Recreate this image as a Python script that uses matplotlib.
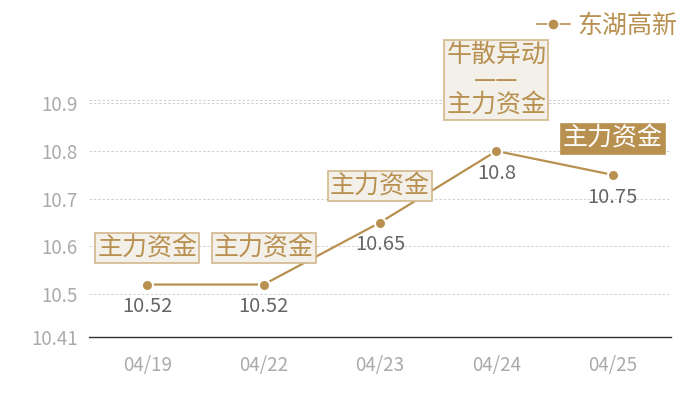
import matplotlib
matplotlib.use("Agg")
import matplotlib.pyplot as plt
from matplotlib.lines import Line2D

plt.rcParams['font.family'] = ['Noto Sans CJK SC', 'DejaVu Sans']

dates = ["04/19", "04/22", "04/23", "04/24", "04/25"]
prices = [10.52, 10.52, 10.65, 10.80, 10.75]
value_labels = ["10.52", "10.52", "10.65", "10.8", "10.75"]
events = ["主力资金", "主力资金", "主力资金", "牛散异动\n——\n主力资金", "主力资金"]
highlight = [False, False, False, False, True]
series_name = "东湖高新"
y_ticks = [10.41, 10.5, 10.6, 10.7, 10.8, 10.9]
y_min, y_max = 10.41, 10.907

gold = "#b8904f"
fig = plt.figure(figsize=(7, 4), dpi=100)
ax = fig.add_axes([89/700, 1-337/400, (671-89)/700, (337-100)/400])

x = list(range(len(dates)))
ax.plot(x, prices, color=gold, lw=1.6, marker='o', ms=8, mfc=gold,
        mec='white', mew=1.5, zorder=3)

ax.set_xlim(-0.5, len(dates)-0.5)
ax.set_ylim(y_min, y_max)
ax.set_yticks(y_ticks)
ax.set_yticklabels([f"{v:g}" for v in y_ticks])
ax.set_xticks(x)
ax.set_xticklabels(dates)
ax.tick_params(axis='both', length=0, colors='#aaaaaa', labelsize=13.5)
ax.tick_params(axis='x', pad=13)
ax.tick_params(axis='y', pad=8)

for v in y_ticks[1:]:
    ax.axhline(v, color='#d0d0d0', lw=0.7, ls=(0, (2.5, 2)), zorder=1)
ax.axhline(y_max, color='#d0d0d0', lw=0.7, ls=(0, (2.5, 2)), zorder=1)

for s in ['top', 'right', 'left']:
    ax.spines[s].set_visible(False)
ax.spines['bottom'].set_color('#333333')
ax.spines['bottom'].set_linewidth(1.0)

for i, (xi, yi) in enumerate(zip(x, prices)):
    ax.annotate(value_labels[i], (xi, yi), xytext=(0, -16), textcoords='offset points',
                ha='center', va='center', fontsize=14.5, color='#666666', zorder=4)
    multi = '\n' in events[i]
    off = 51 if multi else 26
    if highlight[i]:
        fc, ec, tc = gold, gold, 'white'
    else:
        fc, ec, tc = '#f3efe9', '#d2b78c', gold
    ax.annotate(events[i], (xi, yi), xytext=(0, off), textcoords='offset points',
                ha='center', va='center', fontsize=18, color=tc, zorder=5,
                linespacing=0.95,
                bbox=dict(boxstyle='square,pad=0.08', fc=fc, ec=ec, lw=1.2))

handle = Line2D([0], [0], color=gold, lw=1.2, marker='o', ms=8, mfc=gold, mec='white', mew=1.0)
leg = fig.legend([handle], [series_name], loc='upper right', bbox_to_anchor=(0.985, 1.0),
                 frameon=False, fontsize=18, handlelength=1.3, handletextpad=0.3,
                 borderaxespad=0.1)
for t in leg.get_texts():
    t.set_color(gold)

fig.savefig("out.png", dpi=100)
